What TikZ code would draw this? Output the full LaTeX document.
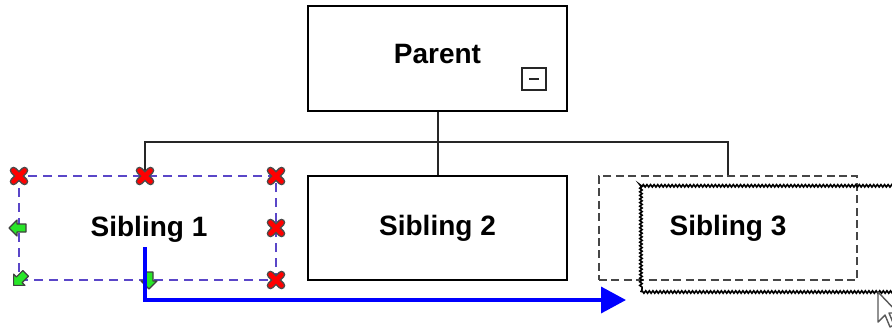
\documentclass[tikz,border=0pt]{standalone}
\usepackage{fontspec}
\setmainfont{Liberation Sans}
\usetikzlibrary{decorations.pathmorphing,arrows.meta}
\definecolor{selpurple}{RGB}{90,70,200}
\definecolor{markred}{RGB}{255,0,0}
\definecolor{markgreen}{RGB}{40,230,40}
\definecolor{ghostgray}{RGB}{70,70,70}
\definecolor{dragblue}{RGB}{0,0,255}
\tikzset{
  lbl/.style={font=\fontsize{14}{16}\selectfont\bfseries, inner sep=0pt},
  orgbox/.style={draw=black, line width=1pt, inner sep=0pt, minimum width=129.5pt, minimum height=52.5pt},
  selbox/.style={draw=selpurple, line width=0.8pt, dash pattern=on 4.5pt off 3pt, inner sep=0pt, minimum width=128.5pt, minimum height=52pt, font=\fontsize{14}{16}\selectfont\bfseries},
  ghostbox/.style={draw=ghostgray, line width=0.9pt, dash pattern=on 4pt off 2.2pt, inner sep=0pt, minimum width=129pt, minimum height=52pt, font=\fontsize{14}{16}\selectfont\bfseries},
  dragbox/.style={draw=black, line width=0.8pt, decorate, decoration={snake, amplitude=0.6pt, segment length=1.8pt}, inner sep=0pt, minimum width=134.5pt, minimum height=52.5pt},
  tree/.style={draw=black!85, line width=1pt},
  dragline/.style={draw=dragblue, line width=1.8pt, -{Triangle[length=12.5pt,width=13pt]}},
  redx/.pic={
    \draw[black!70, line width=3.8pt, line cap=round] (-5.5,-5.5) -- (5.5,5.5) (-5.5,5.5) -- (5.5,-5.5);
    \draw[markred, line width=2.3pt, line cap=round] (-5.5,-5.5) -- (5.5,5.5) (-5.5,5.5) -- (5.5,-5.5);
  },
  greenarrow/.pic={
    \filldraw[fill=markgreen, draw=black!75, line width=0.6pt, line join=round]
      (-9,0) -- (-1,-8) -- (-1,-4) -- (8,-4) -- (8,4) -- (-1,4) -- (-1,8) -- cycle;
  }
}
\begin{document}
\begin{tikzpicture}[x=0.5pt,y=-0.5pt]
\useasboundingbox (0,0) rectangle (892,328);
\clip (0,0) rectangle (892,328);
\fill[white] (0,0) rectangle (892,328);

% boxes
\node[orgbox] (parent) at (437.5,58.5) {};
\node[lbl] (parenttext) at (437.5,54) {Parent};
\node[draw=black!85, line width=0.6pt, minimum width=12pt, minimum height=11pt, inner sep=0pt] (collapse) at (534,79) {};
\draw[black!85, line width=0.7pt] ([xshift=-2.6pt]collapse.center) -- ([xshift=2.6pt]collapse.center);

\node[orgbox, minimum height=52pt, font=\fontsize{14}{16}\selectfont\bfseries] (sib2) at (437.5,228) {Sibling 2};
\node[selbox] (sib1) at (147.5,228) {};
\node[lbl] (sib1text) at (149,229) {Sibling 1};
\node[ghostbox] (sib3) at (728,228) {Sibling 3};
\node[dragbox] (sib3drag) at (775.5,239.5) {};

% tree connectors
\coordinate (busy) at (0,142);
\coordinate (sib1top) at (145,176);
\draw[tree] (parent.south) -- (sib2.north);
\draw[tree] (sib1top) -- (sib1top |- busy) -- (sib3.north |- busy) -- (sib3.north);

% selection handles
\pic at (19,176) {redx};
\pic at (145,176) {redx};
\pic at (276,176) {redx};
\pic at (276,228) {redx};
\pic at (276,280) {redx};
\pic at (18,228) {greenarrow};
\pic[rotate=45] at (20,279) {greenarrow};
\pic[rotate=90] at (149,280) {greenarrow};

% drag arrow
\coordinate (dragstart) at (145,247);
\coordinate (dragend) at (626,300);
\draw[dragline] (dragstart) |- (dragend);

% mouse cursor
\filldraw[fill=white, draw=black!65, line width=0.7pt, line join=round]
  (878,292) -- (878,322) -- (885,315) -- (890,327) -- (894,325) -- (889,313) -- (898,313) -- cycle;
\end{tikzpicture}
\end{document}
